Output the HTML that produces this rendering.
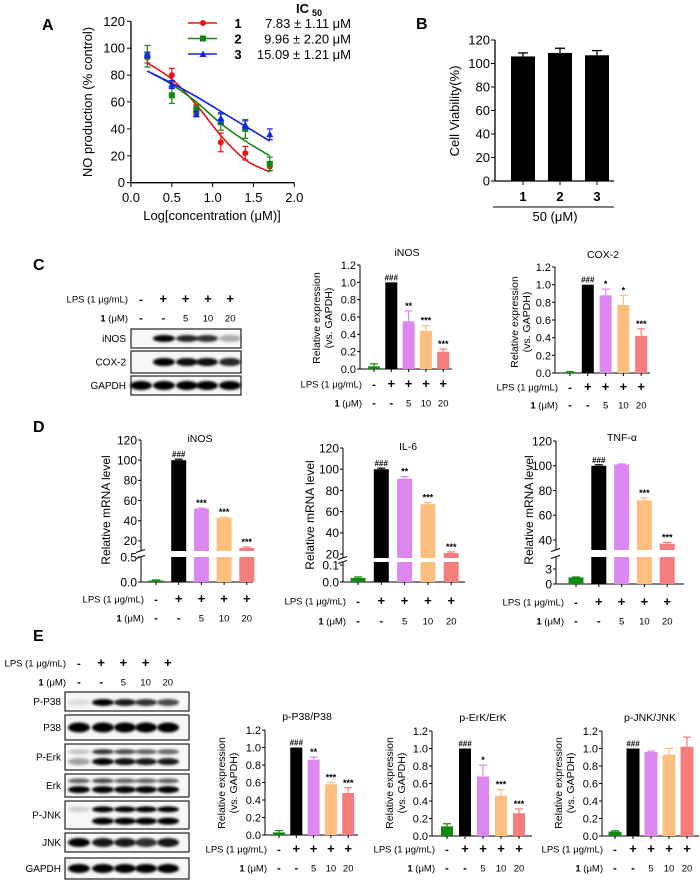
<!DOCTYPE html>
<html><head><meta charset="utf-8"><style>
html,body{margin:0;padding:0;background:#fff;}
svg{display:block;}
text{font-family:"Liberation Sans",sans-serif;fill:#000;}
</style></head><body>
<svg id="fig" width="700" height="881" viewBox="0 0 700 881" xmlns="http://www.w3.org/2000/svg">
<defs><filter id="blur" x="-50%" y="-50%" width="200%" height="200%"><feGaussianBlur stdDeviation="1.2"/></filter></defs>
</svg>
<script>
// ---------- DATA ----------
const aX = [0.2,0.5,0.8,1.1,1.4,1.7];
const a1Vals=[93,80,55,30,22,12]; const a1Err=[4,5,3,7,5,3];
const a2Vals=[94,65,54,45,40,14]; const a2Err=[8,6,3,6,7,5];
const a3Vals=[95,73,51,48,43,36]; const a3Err=[2,3,2,4,3,4];
const a1Fit=[89,77,58,35,17,8];
const a2Fit=[83,73,60,44,31,20];
const a3Fit=[83,74,64,53,42,31];
const aXTicks=[0,0.5,1,1.5,2]; const aYTicks=[0,20,40,60,80,100,120];
const aLegendNames=['1','2','3'];
const aLegendIC=['7.83 \u00b1 1.11 \u03bcM','9.96 \u00b1 2.20 \u03bcM','15.09 \u00b1 1.21 \u03bcM'];
const bCats=['1','2','3']; const bVals=[106,109,107]; const bErr=[3,4,4];
const bYTicks=[0,20,40,60,80,100,120];
const lpsSigns=['-','+','+','+','+']; const doseLabels=['-','-','5','10','20'];
const cInosVals=[0.03,1,0.55,0.44,0.2]; const cInosErr=[0.03,0,0.12,0.06,0.03]; const cInosStars=['','###','**','***','***'];
const cCoxVals=[0.01,1,0.88,0.77,0.42]; const cCoxErr=[0.005,0,0.07,0.11,0.08]; const cCoxStars=['','###','*','*','***'];
const dInosVals=[0.03,100,52,43,13]; const dInosErr=[0.01,1,0.5,0.6,1]; const dInosStars=['','###','***','***','***'];
const dIl6Vals=[0.024,100,91,67,21]; const dIl6Err=[0.006,1,2,1.5,1]; const dIl6Stars=['','###','**','***','***'];
const dTnfVals=[1.3,100,101,72,37]; const dTnfErr=[0.1,0.8,0.5,2,1]; const dTnfStars=['','###','','***','***'];
const eP38Vals=[0.03,1,0.86,0.58,0.48]; const eP38Err=[0.02,0,0.03,0.02,0.06]; const eP38Stars=['','###','**','***','***'];
const eErkVals=[0.11,1,0.68,0.46,0.26]; const eErkErr=[0.03,0,0.13,0.07,0.05]; const eErkStars=['','###','*','***','***'];
const eJnkVals=[0.05,1,0.96,0.93,1.02]; const eJnkErr=[0.01,0,0.01,0.07,0.11]; const eJnkStars=['','###','','',''];
const exprTicks=[0,0.2,0.4,0.6,0.8,1.0,1.2];
const barColors=['#118811','#000000','#dd88f0','#fdbf80','#f67d7d'];

// ---------- HELPERS ----------
const NS='http://www.w3.org/2000/svg';
const svg=document.getElementById('fig');
function el(tag,attrs,parent){const e=document.createElementNS(NS,tag);for(const k in attrs)e.setAttribute(k,attrs[k]);(parent||svg).appendChild(e);return e;}
function txt(x,y,s,attrs,parent){const t=el('text',Object.assign({x:x,y:y},attrs||{}),parent);t.textContent=s;return t;}
function grp(name){const g=el('g',{});

return g;}

[['A',42,30],['B',416,29],['C',33,270],['D',33,432],['E',33,641]].forEach(function(p){
  const t=txt(p[1],p[2],p[0],{'font-size':16,'font-weight':'bold'});
  
  
});

// ---------- PANEL A ----------
(function(){
  const g=grp('panel-a-dose-response');
  const xs=v=>131+v*(294.3-131)/2, ys=v=>182.7-v*(182.7-21.3)/120;
  el('line',{x1:131,y1:21.3,x2:131,y2:182.7,stroke:'#000','stroke-width':1.3},g);
  el('line',{x1:131,y1:182.7,x2:294.3,y2:182.7,stroke:'#000','stroke-width':1.3},g);
  aYTicks.forEach(function(v){el('line',{x1:127,x2:131,y1:ys(v),y2:ys(v),stroke:'#000'},g);
    const t=txt(125,ys(v)+4.5,String(v),{'font-size':13,'text-anchor':'end'},g);
    
    });
  aXTicks.forEach(function(v){el('line',{x1:xs(v),x2:xs(v),y1:182.7,y2:187,stroke:'#000'},g);
    const t=txt(xs(v),202,v.toFixed(1),{'font-size':13,'text-anchor':'middle'},g);
    
    });
  const yt=txt(0,0,'NO production (% control)',{'font-size':13,'text-anchor':'middle',transform:'translate(92,102) rotate(-90)'},g);
  
  
  const xt=txt(212,220,'Log[concentration (\u03bcM)]',{'font-size':13,'text-anchor':'middle'},g);
  
  
  const series=[[a1Vals,a1Err,a1Fit,'#ee1111','circle'],[a2Vals,a2Err,a2Fit,'#118811','square'],[a3Vals,a3Err,a3Fit,'#1122ee','tri']];
  function marker(x,y,shape,c,par){
    if(shape==='circle') return el('circle',{cx:x,cy:y,r:3,fill:c},par);
    if(shape==='square') return el('rect',{x:x-3,y:y-3,width:6,height:6,fill:c},par);
    return el('polygon',{points:(x)+','+(y-3.5)+' '+(x-3.5)+','+(y+3)+' '+(x+3.5)+','+(y+3),fill:c},par);
  }
  function smooth(pts){let d='M'+pts[0][0]+','+pts[0][1];
    for(let i=0;i<pts.length-1;i++){const p0=pts[Math.max(0,i-1)],p1=pts[i],p2=pts[i+1],p3=pts[Math.min(pts.length-1,i+2)];
      d+=' C'+(p1[0]+(p2[0]-p0[0])/6)+','+(p1[1]+(p2[1]-p0[1])/6)+' '+(p2[0]-(p3[0]-p1[0])/6)+','+(p2[1]-(p3[1]-p1[1])/6)+' '+p2[0]+','+p2[1];}
    return d;}
  series.forEach(function(s,si){
    const sg=el('g',{},g);
    
    
    const fit=el('path',{d:smooth(aX.map((x,i)=>[xs(x),ys(s[2][i])])),fill:'none',stroke:s[3],'stroke-width':1.6},sg);
    
    
    aX.forEach(function(x,i){
      const X=xs(x),Y=ys(s[0][i]),e=s[1][i];
      el('line',{x1:X,x2:X,y1:ys(s[0][i]+e),y2:ys(s[0][i]-e),stroke:s[3],'stroke-width':1.2},sg);
      el('line',{x1:X-3,x2:X+3,y1:ys(s[0][i]+e),y2:ys(s[0][i]+e),stroke:s[3],'stroke-width':1.2},sg);
      el('line',{x1:X-3,x2:X+3,y1:ys(s[0][i]-e),y2:ys(s[0][i]-e),stroke:s[3],'stroke-width':1.2},sg);
      const m=marker(X,Y,s[4],s[3],sg);
      
      
    });
    const ly=23+si*15.5;
    el('line',{x1:188,x2:217,y1:ly,y2:ly,stroke:s[3],'stroke-width':1.6},g);
    marker(203,ly,s[4],s[3],g);
    const ln=txt(238,ly+5,aLegendNames[si],{'font-size':13,'font-weight':'bold','text-anchor':'middle'},g);
    
    
    txt(351,ly+5,aLegendIC[si],{'font-size':13,'text-anchor':'end'},g);
  });
  const ic=txt(296,13,'IC',{'font-size':13,'font-weight':'bold'},g);
  
  
  txt(312,16,'50',{'font-size':9,'font-weight':'bold'},g);
})();

// ---------- PANEL B ----------
(function(){
  const g=grp('panel-b-cell-viability');
  const ys=v=>181-v*(181-40)/120;
  const xs=i=>523+i*37;
  el('line',{x1:495,y1:40,x2:495,y2:181,stroke:'#000','stroke-width':1.3},g);
  el('line',{x1:495,y1:181,x2:614,y2:181,stroke:'#000','stroke-width':1.3},g);
  bYTicks.forEach(function(v){el('line',{x1:491,x2:495,y1:ys(v),y2:ys(v),stroke:'#000'},g);
    const t=txt(490,ys(v)+4.5,String(v),{'font-size':13,'text-anchor':'end'},g);
    
    });
  bCats.forEach(function(c,i){
    const b=el('rect',{x:xs(i)-12,y:ys(bVals[i]),width:24,height:181-ys(bVals[i]),fill:'#000'},g);
    
    
    const top=ys(bVals[i]+bErr[i]);
    el('line',{x1:xs(i),x2:xs(i),y1:top,y2:ys(bVals[i]),stroke:'#000','stroke-width':1.3},g);
    el('line',{x1:xs(i)-5,x2:xs(i)+5,y1:top,y2:top,stroke:'#000','stroke-width':1.3},g);
    el('line',{x1:xs(i),x2:xs(i),y1:181,y2:185,stroke:'#000'},g);
    const t=txt(xs(i),201,c,{'font-size':13,'font-weight':'bold','text-anchor':'middle'},g);
    
    
  });
  el('line',{x1:493,x2:614,y1:207,y2:207,stroke:'#000','stroke-width':1},g);
  const u=txt(555,221,'50 (\u03bcM)',{'font-size':13,'text-anchor':'middle'},g);
  
  
  const yt=txt(0,0,'Cell Viability(%)',{'font-size':13,'text-anchor':'middle',transform:'translate(459,111) rotate(-90)'},g);
  
  
})();

// ---------- TREATMENT ROWS ----------
function treatmentRows(g,x0,step,yL,yD,labelRight){
  const l=txt(labelRight,yL+3.5,'LPS (1 \u03bcg/mL)',{'font-size':9.5,'text-anchor':'end'},g);
  
  
  const d=el('text',{x:labelRight,y:yD+3.5,'font-size':9.5,'text-anchor':'end'},g);
  
  
  const b=el('tspan',{'font-weight':'bold'},d); b.textContent='1';
  const r=el('tspan',{},d); r.textContent=' (\u03bcM)';
  lpsSigns.forEach(function(s,i){txt(x0+i*step,yL+4,s,{'font-size':s==='+'?13:11,'font-weight':'bold','text-anchor':'middle'},g);});
  doseLabels.forEach(function(s,i){txt(x0+i*step,yD+3.5,s,{'font-size':s==='-'?11:9.5,'font-weight':s==='-'?'bold':'normal','text-anchor':'middle'},g);});
}

// ---------- BAR CHART ----------
function barChart(name,cfg,vals,errs,stars){
  const g=grp(name);
  const segs=cfg.segs;
  function ys(v){
    for(let k=segs.length-1;k>=0;k--){const s=segs[k];
      if(v>=s.lo||k===0){const vv=Math.min(v,s.hi);return s.yb-(vv-s.lo)/(s.hi-s.lo)*(s.yb-s.yt);}}
  }
  const xs=i=>cfg.x0+i*cfg.step;
  const tf=cfg.tf||11;
  segs.forEach(function(s,k){
    el('line',{x1:cfg.ax,x2:cfg.ax,y1:s.yt,y2:s.yb,stroke:'#000','stroke-width':1},g);
    if(segs.length>1){
      if(k===0) el('line',{x1:cfg.ax-5,x2:cfg.ax+4,y1:s.yt+1.5,y2:s.yt-1.5,stroke:'#000'},g);
      else el('line',{x1:cfg.ax-5,x2:cfg.ax+4,y1:s.yb+1.5,y2:s.yb-1.5,stroke:'#000'},g);
    }
    s.ticks.forEach(function(v){const Y=s.yb-(v-s.lo)/(s.hi-s.lo)*(s.yb-s.yt);
      el('line',{x1:cfg.ax-3,x2:cfg.ax,y1:Y,y2:Y,stroke:'#000'},g);
      const t=txt(cfg.ax-4,Y+tf*0.36,s.fmt?s.fmt(v):String(v),{'font-size':tf,'text-anchor':'end'},g);
      
      });
  });
  el('line',{x1:cfg.ax,x2:cfg.xEnd,y1:segs[0].yb,y2:segs[0].yb,stroke:'#000','stroke-width':1},g);
  vals.forEach(function(v,i){
    const X=xs(i),c=barColors[i];
    el('line',{x1:X,x2:X,y1:segs[0].yb,y2:segs[0].yb+3,stroke:'#000'},g);
    segs.forEach(function(s){
      if(v<=s.lo && s!==segs[0]) return;
      const top=s.yb-(Math.min(v,s.hi)-s.lo)/(s.hi-s.lo)*(s.yb-s.yt);
      const r=el('rect',{x:X-cfg.bw/2,y:top,width:cfg.bw,height:Math.max(0,s.yb-top),fill:c},g);
      
      
    });
    const et=ys(v+errs[i]);
    if(errs[i]>0){
      el('line',{x1:X,x2:X,y1:et,y2:ys(v),stroke:c,'stroke-width':1.2},g);
      el('line',{x1:X-4,x2:X+4,y1:et,y2:et,stroke:c,'stroke-width':1.2},g);
    }
    if(stars[i]){const st=txt(X,et-2,stars[i],{'font-size':stars[i][0]==='#'?8:9,'font-weight':'bold','text-anchor':'middle'},g);
      
      }
  });
  const ti=txt(cfg.title[1],cfg.title[2],cfg.title[0],{'font-size':10.5,'text-anchor':'middle'},g);
  
  
  cfg.ytitle.forEach(function(t){const yt=txt(0,0,t[0],{'font-size':t[3]||10.5,'text-anchor':'middle',transform:'translate('+t[1]+','+t[2]+') rotate(-90)'},g);
    
    });
  treatmentRows(g,cfg.x0,cfg.step,cfg.rows[0],cfg.rows[1],cfg.x0-12);
}
const f1=v=>v.toFixed(1);
function exprSeg(yb,yt){return [{lo:0,hi:1.2,yb:yb,yt:yt,ticks:exprTicks,fmt:f1}];}
function relTitle(x,y){return [['Relative expression',x,y],['(vs. GAPDH)',x+12,y]];}

barChart('c-inos-chart',{ax:360,x0:374,step:17.3,bw:12,xEnd:452,segs:exprSeg(369,265),title:['iNOS',407,256],ytitle:relTitle(320,318),rows:[384,403]},cInosVals,cInosErr,cInosStars);
barChart('c-cox2-chart',{ax:555,x0:570,step:17.8,bw:12,xEnd:650,segs:exprSeg(373,267),title:['COX-2',603,258],ytitle:relTitle(518,322),rows:[387,405]},cCoxVals,cCoxErr,cCoxStars);

barChart('d-inos-mrna-chart',{ax:141,x0:156,step:22.7,bw:15,xEnd:253,tf:12,
  segs:[{lo:0,hi:0.5,yb:582,yt:557,ticks:[0,0.5],fmt:f1},{lo:10,hi:120,yb:551,yt:440,ticks:[20,40,60,80,100,120]}],
  title:['iNOS',200,442],ytitle:[['Relative  mRNA level',110,510,12]],rows:[599,618]},dInosVals,dInosErr,dInosStars);
barChart('d-il6-mrna-chart',{ax:343,x0:358,step:23.3,bw:15,xEnd:465,tf:12,
  segs:[{lo:0,hi:0.118,yb:582,yt:562,ticks:[0,0.1],fmt:f1},{lo:16.3,hi:120,yb:558,yt:448,ticks:[20,40,60,80,100,120]}],
  title:['IL-6',408,450],ytitle:[['Relative  mRNA level',314,515,12]],rows:[601,621]},dIl6Vals,dIl6Err,dIl6Stars);
barChart('d-tnf-mrna-chart',{ax:556,x0:576,step:22.8,bw:15,xEnd:684,tf:12,
  segs:[{lo:0,hi:5.4,yb:584,yt:557,ticks:[0,3]},{lo:31.9,hi:120,yb:550,yt:441,ticks:[40,60,80,100,120]}],
  title:['TNF-\u03b1',622,441],ytitle:[['Relative  mRNA level',533,510,12]],rows:[602,621]},dTnfVals,dTnfErr,dTnfStars);

barChart('e-p38-chart',{ax:265,x0:279,step:17.3,bw:12,xEnd:358,segs:exprSeg(835,730),title:['p-P38/P38',307,720],ytitle:relTitle(225,783),rows:[849,868]},eP38Vals,eP38Err,eP38Stars);
barChart('e-erk-chart',{ax:432,x0:447,step:18,bw:12,xEnd:532,segs:exprSeg(836,731),title:['p-ErK/ErK',483,721],ytitle:relTitle(393,783),rows:[849,868]},eErkVals,eErkErr,eErkStars);
barChart('e-jnk-chart',{ax:602,x0:615,step:18,bw:13,xEnd:699,segs:exprSeg(836,731),title:['p-JNK/JNK',650,721],ytitle:relTitle(562,783),rows:[849,868]},eJnkVals,eJnkErr,eJnkStars);

// ---------- WESTERN BLOTS ----------
function blot(name,lanes,x1,x2,labelX,rows){
  const g=grp(name);
  rows.forEach(function(r){
    const rg=el('g',{},g);
    
    
    el('rect',{x:x1,y:r.y1,width:x2-x1,height:r.y2-r.y1,fill:'#f7f7f7',stroke:'#222','stroke-width':1.2},rg);
    r.bands.forEach(function(b){
      lanes.forEach(function(x,i){if(b.i[i]<=0)return;
        el('ellipse',{cx:x,cy:r.y1+(r.y2-r.y1)*b.f,rx:11,ry:b.h,fill:'#000','fill-opacity':Math.min(1,b.i[i]),filter:'url(#blur)'},rg);});
    });
    const t=txt(labelX,(r.y1+r.y2)/2+3.5,r.label,{'font-size':10,'text-anchor':'end'},g);
    
    
  });
  return g;
}
const gC=blot('c-western-blot',[141,164,187,207,230],131,241,126,[
  {label:'iNOS',y1:329,y2:348,bands:[{f:0.5,h:3.5,i:[0,1,0.85,0.8,0.3]}]},
  {label:'COX-2',y1:351,y2:373,bands:[{f:0.5,h:4,i:[0,1,0.95,0.95,0.85]}]},
  {label:'GAPDH',y1:376,y2:395,bands:[{f:0.5,h:4.5,i:[1,1,1,1,1]}]}]);
treatmentRows(gC,141,22.3,299,318,128);
const gE=blot('e-western-blot',[79,103,125,146,168],65,189,61,[
  {label:'P-P38',y1:692,y2:711,bands:[{f:0.55,h:3.5,i:[0.1,1,0.9,0.8,0.7]}]},
  {label:'P38',y1:715,y2:740,bands:[{f:0.5,h:5,i:[1,1,1,1,1]}]},
  {label:'P-Erk',y1:744,y2:770,bands:[{f:0.3,h:2.5,i:[0.2,0.8,0.7,0.6,0.6]},{f:0.68,h:3.5,i:[0.35,1,0.95,0.9,0.9]}]},
  {label:'Erk',y1:774,y2:797,bands:[{f:0.3,h:2.5,i:[0.6,0.7,0.6,0.6,0.6]},{f:0.68,h:3.5,i:[1,1,1,1,1]}]},
  {label:'P-JNK',y1:801,y2:829,bands:[{f:0.3,h:3,i:[0.15,1,1,1,1]},{f:0.72,h:3.5,i:[0,1,1,1,1]}]},
  {label:'JNK',y1:833,y2:852,bands:[{f:0.5,h:4.5,i:[1,0.9,0.9,0.8,0.9]}]},
  {label:'GAPDH',y1:858,y2:879,bands:[{f:0.5,h:4.5,i:[1,1,1,1,1]}]}]);
treatmentRows(gE,79,22.2,663,682,66);
</script>
</body></html>
